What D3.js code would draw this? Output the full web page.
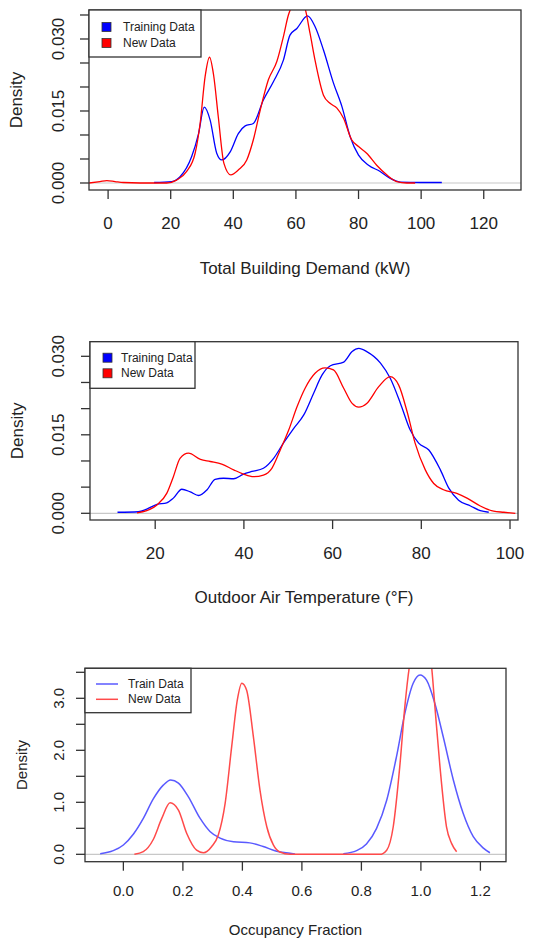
<!DOCTYPE html>
<html>
<head>
<meta charset="utf-8">
<script src="https://cdn.jsdelivr.net/npm/d3@7"></script>
<style>
  body { margin: 0; background: #fff; }
  text { font-family: "Liberation Sans", Arial, sans-serif; fill: #222; }
</style>
</head>
<body>
<svg id="chart" width="540" height="940"></svg>
<script>
// --- panel 1: total building demand (kW)
var demandTrainX = [14.7, 20.3, 23, 26.7, 28.9, 30.7, 32.6, 34.7, 36.3, 39, 41.6, 43.8, 46.4, 49.6, 52.8, 56, 58.1, 60.3, 63.7, 66.1, 68.8, 72, 74.7, 77.3, 80, 83.2, 86.9, 90, 93.3, 99.7, 106.6];
var demandTrainY = [0.0001, 0.0003, 0.0013, 0.0055, 0.0103, 0.0158, 0.0131, 0.0062, 0.0048, 0.0065, 0.0103, 0.0119, 0.0124, 0.0173, 0.0211, 0.0256, 0.0308, 0.0322, 0.0348, 0.0326, 0.0277, 0.0208, 0.0159, 0.0097, 0.0058, 0.0037, 0.0024, 0.001, 0.0002, 0.0001, 0.0001];
var demandNewX = [-6.1, -2.6, -0.4, 2.2, 4.9, 10.2, 18.7, 21.9, 25.1, 27.8, 29.4, 31, 32.4, 33.7, 35.2, 37, 39.2, 41.6, 44.3, 46.4, 48.6, 51.2, 53.9, 56, 57.6, 59.5, 61, 62.5, 64.5, 66.1, 68.8, 70.9, 73.1, 75.2, 77.8, 80, 82.6, 85.8, 89, 92.2, 95.4, 98.1];
var demandNewY = [0, 0.0003, 0.0005, 0.0003, 0.0001, 0, 0, 0.0006, 0.0024, 0.0062, 0.0124, 0.0222, 0.0262, 0.0225, 0.0138, 0.0041, 0.0017, 0.0027, 0.0048, 0.009, 0.0152, 0.0215, 0.0253, 0.0305, 0.035, 0.0375, 0.038, 0.0372, 0.0312, 0.0256, 0.0183, 0.0166, 0.0156, 0.0135, 0.009, 0.0076, 0.0062, 0.0037, 0.0017, 0.0003, 0, 0];

// --- panel 2: outdoor air temperature (F)
var tempTrainX = [11.5, 16.2, 18.1, 20.4, 22.6, 24.1, 26, 27.9, 29.8, 31.7, 33.5, 35.4, 37.7, 39.9, 41.8, 44.4, 46.7, 48.9, 51.2, 53.5, 55.7, 57.6, 59.5, 62.5, 64.4, 65.9, 67.7, 70.8, 73, 75.3, 77.5, 79.4, 81.7, 84.3, 86.2, 88.4, 91.1, 93.3, 95.2];
var tempTrainY = [0.0002, 0.0003, 0.0008, 0.0017, 0.002, 0.0029, 0.0046, 0.0041, 0.0034, 0.0045, 0.0065, 0.0067, 0.0066, 0.0075, 0.008, 0.0086, 0.0105, 0.0134, 0.0162, 0.0188, 0.0229, 0.0264, 0.0282, 0.0289, 0.0309, 0.0315, 0.0309, 0.0287, 0.0258, 0.021, 0.0159, 0.0134, 0.0121, 0.0083, 0.0048, 0.0025, 0.0014, 0.0005, 0.0002];
var tempNewX = [15.9, 18.1, 20.4, 22.6, 24.1, 25.6, 27.5, 30.2, 32.4, 35, 37.7, 39.9, 42.2, 44.4, 46.3, 48.2, 50.1, 52, 53.8, 56.1, 58.3, 60.2, 62.5, 64.4, 65.9, 67.7, 70.4, 73, 74.9, 76.8, 78.6, 80.9, 82.8, 85, 88, 90.3, 93.3, 96.3, 98.6, 101.2];
var tempNewY = [0.0001, 0.0005, 0.0016, 0.0038, 0.007, 0.0105, 0.0115, 0.0103, 0.0099, 0.0094, 0.0083, 0.0075, 0.007, 0.0073, 0.0086, 0.0121, 0.0159, 0.0204, 0.0239, 0.0268, 0.0278, 0.0274, 0.0239, 0.021, 0.0203, 0.021, 0.0242, 0.0261, 0.0245, 0.0194, 0.0134, 0.0083, 0.0057, 0.0045, 0.0038, 0.0029, 0.0014, 0.0004, 0.0002, 0];

// --- panel 3: occupancy fraction (blue has two pieces)
var occTrainX1 = [-0.078, -0.034, 0, 0.034, 0.067, 0.1, 0.134, 0.159, 0.185, 0.218, 0.258, 0.291, 0.325, 0.37, 0.425, 0.47, 0.515, 0.56, 0.577];
var occTrainY1 = [0.013, 0.07, 0.18, 0.39, 0.69, 1.06, 1.33, 1.43, 1.37, 1.11, 0.69, 0.44, 0.31, 0.24, 0.22, 0.15, 0.06, 0.02, 0.006];
var occTrainX2 = [0.739, 0.784, 0.817, 0.851, 0.885, 0.918, 0.946, 0.974, 0.997, 1.019, 1.047, 1.075, 1.109, 1.142, 1.176, 1.21, 1.232];
var occTrainY2 = [0.01, 0.07, 0.2, 0.5, 1.04, 1.88, 2.71, 3.29, 3.45, 3.35, 2.9, 2.26, 1.43, 0.79, 0.34, 0.12, 0.03];
var occNewX = [0.037, 0.067, 0.1, 0.129, 0.157, 0.185, 0.213, 0.246, 0.269, 0.297, 0.319, 0.342, 0.364, 0.383, 0.398, 0.414, 0.437, 0.459, 0.482, 0.504, 0.526, 0.56, 0.862, 0.885, 0.907, 0.929, 0.946, 0.961, 0.98, 1.0, 1.02, 1.036, 1.047, 1.064, 1.086, 1.103, 1.12];
var occNewY = [0, 0.05, 0.28, 0.69, 0.99, 0.85, 0.4, 0.08, 0.03, 0.15, 0.37, 0.98, 2.07, 2.97, 3.29, 3.16, 2.26, 1.24, 0.53, 0.18, 0.045, 0, 0, 0.08, 0.53, 1.69, 2.84, 3.6, 4.1, 4.25, 4.1, 3.6, 2.84, 1.69, 0.53, 0.21, 0.05];

// ticks
var demandXTicks = [0, 20, 40, 60, 80, 100, 120];
var tempXTicks = [20, 40, 60, 80, 100];
var occXTicks = [0, 0.2, 0.4, 0.6, 0.8, 1.0, 1.2];
var densYTicks1 = [0, 0.005, 0.01, 0.015, 0.02, 0.025, 0.03, 0.035];
var densYTicks2 = [0, 0.005, 0.01, 0.015, 0.02, 0.025, 0.03];
var densYLabels = [0, 0.015, 0.03];
var occYTicks = [0, 0.5, 1, 1.5, 2, 2.5, 3, 3.5];
var occYLabels = [0, 1, 2, 3];

function zip(xs, ys) { return xs.map(function(x, i) { return [x, ys[i]]; }); }

var svg = d3.select("#chart");

function drawPanel(p, idx) {
	var x = d3.scaleLinear().domain(p.xDomain).range([p.box.l, p.box.r]);
	var y = d3.scaleLinear().domain(p.yDomain).range([p.box.b, p.box.t]);
	var g = svg.append("g");

	g.append("clipPath").attr("id", "clip" + idx)
		.append("rect")
		.attr("x", p.box.l).attr("y", p.box.t)
		.attr("width", p.box.r - p.box.l).attr("height", p.box.b - p.box.t);

	// zero line
	g.append("line")
		.attr("x1", p.box.l).attr("x2", p.box.r)
		.attr("y1", y(0)).attr("y2", y(0))
		.attr("stroke", "#c8c8c8").attr("stroke-width", 1.2);

	var line = d3.line()
		.x(function(d) { return x(d[0]); })
		.y(function(d) { return y(d[1]); })
		.curve(d3.curveMonotoneX);

	var lines = g.append("g").attr("clip-path", "url(#clip" + idx + ")");
	p.series.forEach(function(s) {
		lines.append("path")
			.attr("d", line(s.pts))
			.attr("fill", "none")
			.attr("stroke", s.color)
			.attr("stroke-width", p.lw);
	});

	// frame
	g.append("rect")
		.attr("x", p.box.l).attr("y", p.box.t)
		.attr("width", p.box.r - p.box.l).attr("height", p.box.b - p.box.t)
		.attr("fill", "none").attr("stroke", "#333").attr("stroke-width", 1.3);

	// x axis ticks + labels
	g.selectAll(".xt").data(p.xTicks).enter().append("line")
		.attr("x1", function(d) { return x(d); }).attr("x2", function(d) { return x(d); })
		.attr("y1", p.box.b).attr("y2", p.box.b + 9)
		.attr("stroke", "#333").attr("stroke-width", 1.3);
	g.selectAll(".xl").data(p.xTicks).enter().append("text")
		.attr("x", function(d) { return x(d); })
		.attr("y", p.box.b + p.xLabOff)
		.attr("text-anchor", "middle").attr("dominant-baseline", "central")
		.style("font-size", p.fs + "px")
		.text(function(d) { return d3.format(p.xFmt)(d); });

	// y axis ticks + labels
	g.selectAll(".yt").data(p.yTicks).enter().append("line")
		.attr("x1", p.box.l - 9).attr("x2", p.box.l)
		.attr("y1", function(d) { return y(d); }).attr("y2", function(d) { return y(d); })
		.attr("stroke", "#333").attr("stroke-width", 1.3);
	g.selectAll(".yl").data(p.yLabels).enter().append("text")
		.attr("transform", function(d) { return "translate(58," + y(d) + ") rotate(-90)"; })
		.attr("text-anchor", "middle").attr("dominant-baseline", "central")
		.style("font-size", p.fs + "px")
		.text(function(d) { return d3.format(p.yFmt)(d); });

	// titles
	g.append("text")
		.attr("x", (p.box.l + p.box.r) / 2).attr("y", p.box.b + p.titleOff)
		.attr("text-anchor", "middle").attr("dominant-baseline", "central")
		.style("font-size", p.fs + "px")
		.text(p.title);
	g.append("text")
		.attr("transform", "translate(" + p.densX + "," + (p.box.t + p.box.b) / 2 + ") rotate(-90)")
		.attr("text-anchor", "middle").attr("dominant-baseline", "central")
		.style("font-size", p.fs + "px")
		.text("Density");

	// legend
	var lg = p.legend;
	g.append("rect")
		.attr("x", p.box.l).attr("y", p.box.t)
		.attr("width", lg.w).attr("height", lg.h)
		.attr("fill", "#fff").attr("stroke", "#333").attr("stroke-width", 1.3);
	lg.items.forEach(function(it, i) {
		var cy = p.box.t + lg.first + i * lg.step;
		if (lg.type === "box") {
			g.append("rect")
				.attr("x", p.box.l + 13).attr("y", cy - 4.5)
				.attr("width", 9).attr("height", 9)
				.attr("fill", it.color).attr("stroke", "#333").attr("stroke-width", 0.8);
		} else {
			g.append("line")
				.attr("x1", p.box.l + 11).attr("x2", p.box.l + 33)
				.attr("y1", cy).attr("y2", cy)
				.attr("stroke", it.color).attr("stroke-width", 1.5);
		}
		g.append("text")
			.attr("x", p.box.l + lg.textX).attr("y", cy)
			.attr("dominant-baseline", "central")
			.style("font-size", "12px")
			.text(it.label);
	});
}

var panels = [
	{
		box: {l: 89, r: 521, t: 10, b: 190},
		xDomain: [-6.1, 131.9], yDomain: [-0.00146, 0.03604],
		xTicks: demandXTicks, yTicks: densYTicks1, yLabels: densYLabels,
		xFmt: "d", yFmt: ".3f", fs: 17, lw: 1.3,
		xLabOff: 33, titleOff: 78, densX: 16,
		title: "Total Building Demand (kW)",
		series: [
			{pts: zip(demandTrainX, demandTrainY), color: "#0000ff"},
			{pts: zip(demandNewX, demandNewY), color: "#ff0000"}
		],
		legend: {type: "box", w: 112, h: 47, first: 17, step: 16, textX: 34,
			items: [{label: "Training Data", color: "#0000ff"}, {label: "New Data", color: "#ff0000"}]}
	},
	{
		box: {l: 90, r: 518, t: 341.7, b: 520},
		xDomain: [5.3, 101.8], yDomain: [-0.00128, 0.03279],
		xTicks: tempXTicks, yTicks: densYTicks2, yLabels: densYLabels,
		xFmt: "d", yFmt: ".3f", fs: 17, lw: 1.3,
		xLabOff: 33, titleOff: 77, densX: 17,
		title: "Outdoor Air Temperature (\u00B0F)",
		series: [
			{pts: zip(tempTrainX, tempTrainY), color: "#0000ff"},
			{pts: zip(tempNewX, tempNewY), color: "#ff0000"}
		],
		legend: {type: "box", w: 105, h: 46.6, first: 16, step: 15.6, textX: 31,
			items: [{label: "Training Data", color: "#0000ff"}, {label: "New Data", color: "#ff0000"}]}
	},
	{
		box: {l: 85, r: 506, t: 668.3, b: 861.7},
		xDomain: [-0.129, 1.286], yDomain: [-0.142, 3.577],
		xTicks: occXTicks, yTicks: occYTicks, yLabels: occYLabels,
		xFmt: ".1f", yFmt: ".1f", fs: 15, lw: 1.5,
		xLabOff: 29, titleOff: 67.6, densX: 21.7,
		title: "Occupancy Fraction",
		series: [
			{pts: zip(occTrainX1, occTrainY1), color: "#5a5aff"},
			{pts: zip(occTrainX2, occTrainY2), color: "#5a5aff"},
			{pts: zip(occNewX, occNewY), color: "#ff4a4a"}
		],
		legend: {type: "line", w: 106, h: 44.4, first: 15.7, step: 15.3, textX: 43,
			items: [{label: "Train Data", color: "#5a5aff"}, {label: "New Data", color: "#ff4a4a"}]}
	}
];

panels.forEach(drawPanel);
</script>
</body>
</html>
